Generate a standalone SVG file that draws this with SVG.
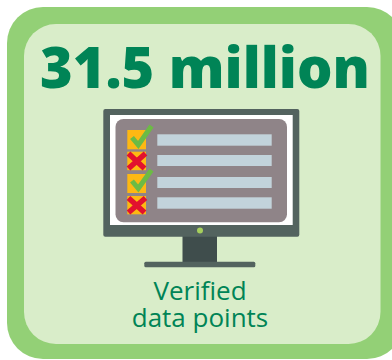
<svg xmlns="http://www.w3.org/2000/svg" width="392" height="360" viewBox="0 0 392 360">
<style>
.t{font-family:"Open Sans","Noto Sans","Liberation Sans",sans-serif;fill:#008456;text-anchor:middle}
.box{fill:#fdb813}
.row{fill:#c2d3db}
.tick{fill:none;stroke:#6cbb45;stroke-width:5}
.cross{fill:none;stroke:#e2112e;stroke-width:5.500}
</style>
<rect width="392" height="360" fill="#fff"/>
<g id="panel">
<rect x="7" y="7" width="396" height="352" rx="36" fill="#93d076"/>
<rect x="24" y="24" width="356.500" height="320" rx="32" fill="#d9edc9"/>
</g>
<g id="headline"><text class="t" x="205" y="88" font-size="57" font-weight="800" textLength="330" lengthAdjust="spacingAndGlyphs">31.5 million</text></g>
<g id="monitor">
<rect x="182.500" y="236" width="34.500" height="27" fill="#3f4d4c"/>
<rect x="144.300" y="261.700" width="111" height="5.500" rx="1.500" fill="#53635f"/>
<rect x="103.300" y="109" width="196" height="127.700" rx="2" fill="#53635f"/>
<rect x="110" y="115" width="182.700" height="110" fill="#fff"/>
<rect x="115.500" y="119" width="171.500" height="103.300" rx="8" fill="#8f8488"/>
<circle cx="200" cy="230.500" r="3" fill="#a6cf5d"/>
</g>
<g id="checklist">
<rect class="box" x="127.300" y="130" width="18.700" height="19.300"/>
<rect class="box" x="127.300" y="151.700" width="18.700" height="18.500"/>
<rect class="box" x="127.300" y="174" width="18.700" height="19"/>
<rect class="box" x="127.300" y="196" width="18.700" height="18.300"/>
<rect class="row" x="157.300" y="134.300" width="114.400" height="11.400"/>
<rect class="row" x="157.300" y="155" width="114.400" height="11"/>
<rect class="row" x="157.300" y="177" width="114.400" height="11"/>
<rect class="row" x="157.300" y="197.300" width="114.400" height="11.400"/>
<path class="tick" d="M132 137.500L138.300 145L151.500 126"/>
<path class="tick" d="M132 181L138.300 188.500L151.500 170"/>
<path class="cross" d="M128.500 153.500L144.500 168.500M145.500 153.500L128.500 168.500"/>
<path class="cross" d="M128.500 198L144.500 212.500M145.500 198L128.500 212.500"/>
</g>
<g id="caption">
<text class="t" x="200" y="300" font-size="26">Verified</text>
<text class="t" x="200" y="326.700" font-size="26">data points</text>
</g>
</svg>
